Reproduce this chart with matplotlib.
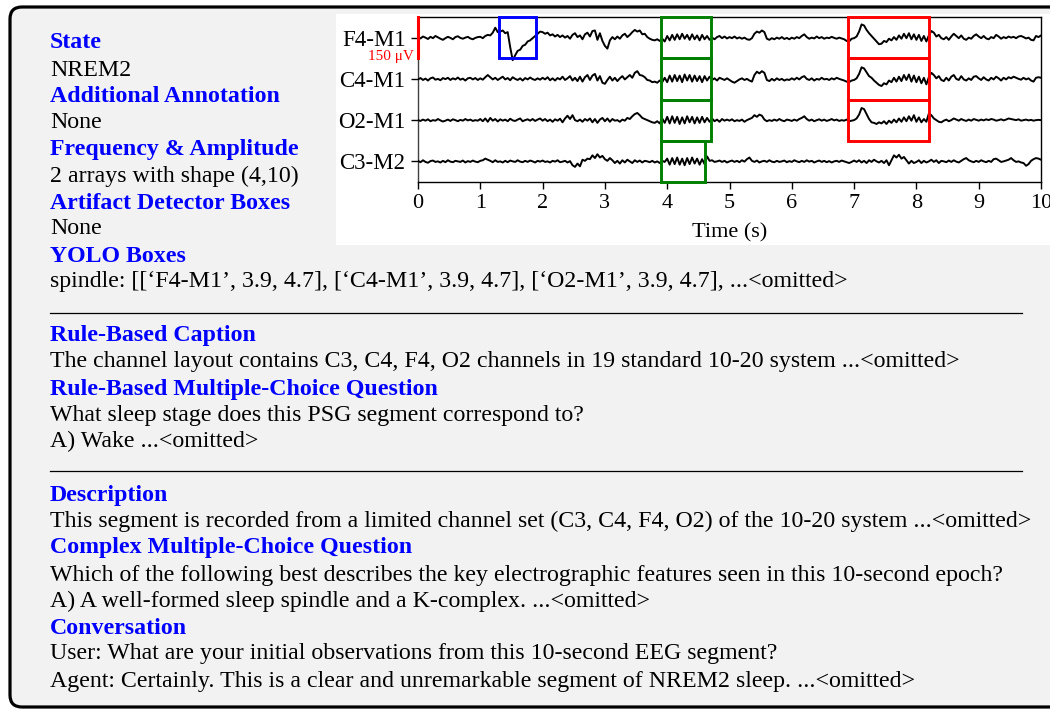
import numpy as np
import matplotlib
matplotlib.use("Agg")
import matplotlib.pyplot as plt
from matplotlib.patches import FancyBboxPatch, Rectangle
from matplotlib.transforms import IdentityTransform

plt.rcParams['font.family'] = ['Liberation Serif', 'DejaVu Serif']

# ---------------------------------------------------------------- data
channels = ['F4-M1', 'C4-M1', 'O2-M1', 'C3-M2']
duration = 10.0

# EEG amplitude in microvolts, 25 samples per second
f4_m1 = [
    2, -3, 4, 0, -5, 3, -2, 6, 1, -4, -8, -2, 3, -1, -6, 2, 5, -1, -4, 0, 3, -3, -6, -1, 2,
    3, -2, 6, 10, 8, 18, 36, 20, 22, 26, 16, 20, -35, -82, -64, -48, -44, -30, -26, -14, -10, -2, 6, 14, 22,
    20, 14, 18, 8, 12, 4, 10, 2, 8, 0, 6, -4, 10, 16, 2, 8, -6, 12, 18, 4, 24, 26, -8, 16, -12,
    -30, -40, -10, 2, -6, 4, -4, 8, 14, 2, 10, 20, 28, 22, 26, 12, 14, 2, -4, -8, -10, -6, -12, -4, -14,
    6, -10, 10, -8, 12, -6, 14, -4, 10, -8, 12, -6, 8, -10, 10, -6, 6, -8, 0, -6, 2, 6, -2, 4, -3,
    2, -2, 4, -3, 1, -4, 0, -6, -8, -2, 14, 22, 18, 26, 20, -4, -8, -2, -6, 0, -4, 2, -5, -1, -6,
    0, -4, 2, -2, 6, 12, 2, -4, 0, -3, 4, -2, 2, -4, 0, -2, 3, -1, -4, 0, -3, -6, -12, -14, -4,
    -2, 4, 22, 48, 44, 28, 16, 6, -4, -14, -24, -22, -12, -16, -4, -10, 2, -8, 8, -4, 14, -2, 16, -6, 12,
    -8, 10, -12, 6, -14, 8, 24, 18, 4, 10, -2, -6, 2, -8, 4, 14, 6, -2, 8, -4, -8, 0, -4, 6, 12,
    4, -2, 6, -3, -6, 2, -2, 10, 4, -4, 2, -2, 4, 0, 3, -2, 4, 6, 2, -3, 0, -8, -10, 6, 2,
    8,
]
c4_m1 = [
    -2, 3, -4, 1, -6, 2, 5, -3, 0, -5, 3, -1, 4, -4, 2, -2, 5, -3, 1, -6, 2, 4, -2, 3, -4,
    2, -3, 6, 14, 6, -2, 4, -4, 2, 8, -2, 3, -5, 6, 0, -4, 2, -6, 3, -2, 5, -1, -4, 2, -3,
    4, -2, 6, -5, 2, -6, 3, -2, 8, -4, 2, 10, -6, 4, -8, 8, -10, 6, 14, -4, 12, 18, -6, 10, -14,
    -18, -4, 8, -6, 4, -8, 2, 10, -2, 6, 14, 4, 22, 28, 14, 12, 6, -4, -6, -12, -10, -14, -6, -12, 4,
    -12, 12, -10, 14, -8, 12, -12, 16, -6, 14, -10, 12, -8, 10, -12, 10, -6, 8, -4, 2, -6, 4, 0, -4, 2,
    -4, -10, -14, -8, -2, 2, -4, 0, -6, -10, 14, 26, 20, 28, 22, -4, -8, 0, -6, 2, -4, 0, -6, -2, -4,
    2, -3, 4, -2, 6, 10, 0, -4, 2, -6, 0, -3, 4, -2, 0, -4, 2, -2, 4, 0, -3, -6, -10, -12, -6,
    -4, 2, 18, 42, 38, 24, 10, 4, -6, -14, -22, -26, -16, -20, -6, -12, 4, -10, 8, -8, 14, -4, 16, -10, 12,
    -12, 8, -16, 4, -20, 6, 22, 14, 2, 10, -4, -8, 4, -6, 8, 14, 0, -4, 10, -2, -6, 2, -4, 8, 10,
    2, -4, 6, -2, -6, 4, -2, 8, 2, -6, 4, -2, 6, 2, 8, 4, 0, -3, 4, -2, 2, -6, -10, 4, 6,
    4,
]
o2_m1 = [
    0, -3, 2, -2, 3, -4, 0, -2, 4, -1, -5, -2, 2, -3, 3, 0, -4, 1, -2, 4, -1, 2, -3, 0, -2,
    4, -4, 6, -6, 8, -2, 4, -5, 3, -2, 2, -4, 5, -1, -3, 2, 6, -4, 0, 3, -2, 4, -3, 2, 6,
    -2, 4, -4, 2, -6, 3, -2, 5, -8, 6, 16, 4, 18, 0, -4, 2, -6, 4, -2, 6, -8, 4, -10, 2, 8,
    -4, 6, -6, 4, -2, 0, -6, 2, -2, 8, 4, 14, 22, 26, 18, 8, 4, 0, -4, -8, -10, -4, -12, 6, -10,
    12, -12, 14, -10, 12, -14, 10, -12, 14, -8, 12, -12, 10, -10, 12, -8, 8, -6, 6, -4, 2, -6, 4, -2, 2,
    -2, 3, -4, 0, -3, 2, -6, 0, 4, 8, 18, 12, 20, 16, 2, -4, 0, -3, 2, -2, 4, -1, -4, 2, 0,
    -3, 2, -2, 4, 8, 14, 4, -2, 2, -4, 0, 3, -2, 2, -3, 0, 4, -1, 2, -3, 0, -2, 2, -4, -2,
    0, 6, 20, 44, 40, 22, 4, -8, -10, -14, -8, -12, -4, -14, -2, -10, 2, -8, 6, -6, 10, -4, 14, -2, 18,
    -6, 10, -8, 4, -6, 24, 18, 6, 0, -6, -8, -2, 2, -4, 0, 6, 2, -2, 4, 0, -3, 2, -2, 4, 1,
    -2, 2, -1, 3, 0, 4, 2, -2, 0, 3, -1, 2, 6, 4, 2, 0, 3, -2, 0, 2, -1, 1, -2, 0, 1,
    0,
]
c3_m2 = [
    2, -3, 4, -2, -5, 1, 3, -2, 0, -4, 2, -3, 4, -1, -3, 2, 0, -2, 3, -4, 1, -2, 3, -1, -3,
    2, 4, 10, 6, 2, -3, 4, -2, 0, -4, 2, -3, 3, 0, -2, 4, -1, -3, 2, -2, 3, 0, -4, 2, -1,
    3, -2, 0, -4, 2, -1, 4, -3, -1, 2, -4, 1, -14, -20, -8, -18, 6, 2, 10, 8, 22, 12, 26, 14, 20,
    8, 2, 12, 4, -6, 2, -8, 4, -4, 6, 0, -6, 4, -2, 3, -4, 2, 0, -3, 2, -4, 0, -6, 2, -2,
    10, -12, 12, -10, 14, -12, 10, -14, 12, -10, 14, -8, 10, -12, 8, -10, 18, 2, 4, -2, 0, 3, -2, 2, -4,
    0, 3, -2, 2, -3, 4, -1, 8, 14, 2, -2, 3, -4, 0, 2, -2, 4, -1, -3, 2, -2, 0, 3, -3, 1,
    -2, 4, 0, -3, 2, -2, 4, -1, 2, -4, 0, 3, -2, 2, -3, 1, -4, 0, 2, -2, 3, 0, -3, -6, -2,
    3, -2, 4, -4, 2, -6, 4, -2, 6, 0, -4, 2, -6, 4, -14, 4, 22, 14, 24, 10, 16, 4, -8, 2, -6,
    -2, 4, -6, 2, -4, 0, 6, -2, 4, -6, 2, 0, -3, 3, -2, 4, -1, -4, 2, 8, 12, 4, 0, -3, 2,
    -2, 4, 0, -3, 2, -2, 8, 10, 4, -2, 0, 3, 6, 12, 4, -2, 0, -4, -6, -16, -10, 2, 8, 12, 10,
    6,
]
signals = [f4_m1, c4_m1, o2_m1, c3_m2]

# detector / YOLO boxes: (channel, start s, end s)
artifact_boxes = [('F4-M1', 1.3, 1.9)]
spindle_boxes = [('F4-M1', 3.9, 4.7), ('C4-M1', 3.9, 4.7), ('O2-M1', 3.9, 4.7), ('C3-M2', 3.9, 4.6)]
kcomplex_boxes = [('F4-M1', 6.9, 8.2), ('C4-M1', 6.9, 8.2), ('O2-M1', 6.9, 8.2)]

scale_uv = 150
xticks = list(range(0, 11))

# text panel: (y pixel, text, is heading)
panel_lines = [
    (40, "State", True),
    (67, "NREM2", False),
    (93, "Additional Annotation", True),
    (120, "None", False),
    (147, "Frequency & Amplitude", True),
    (173, "2 arrays with shape (4,10)", False),
    (200, "Artifact Detector Boxes", True),
    (226, "None", False),
    (253, "YOLO Boxes", True),
    (279, "spindle: [[\u2018F4-M1\u2019, 3.9, 4.7], [\u2018C4-M1\u2019, 3.9, 4.7], "
          "[\u2018O2-M1\u2019, 3.9, 4.7], ...<omitted>", False),
    (332, "Rule-Based Caption", True),
    (358, "The channel layout contains C3, C4, F4, O2 channels in 19 standard 10-20 system ...<omitted>", False),
    (386, "Rule-Based Multiple-Choice Question", True),
    (412, "What sleep stage does this PSG segment correspond to?", False),
    (438, "A) Wake ...<omitted>", False),
    (492, "Description", True),
    (518, "This segment is recorded from a limited channel set (C3, C4, F4, O2) of the 10-20 system ...<omitted>", False),
    (545, "Complex Multiple-Choice Question", True),
    (572, "Which of the following best describes the key electrographic features seen in this 10-second epoch?", False),
    (598, "A) A well-formed sleep spindle and a K-complex. ...<omitted>", False),
    (625, "Conversation", True),
    (651, "User: What are your initial observations from this 10-second EEG segment?", False),
    (678, "Agent: Certainly. This is a clear and unremarkable segment of NREM2 sleep. ...<omitted>", False),
]
separators = [313, 471]

# ---------------------------------------------------------------- figure
W, H = 1050, 710
fig = plt.figure(figsize=(W / 100, H / 100), dpi=100)
fig.patch.set_facecolor('white')


def fx(x):
    return x / W


def fy(y):
    return 1 - y / H


# rounded grey card
card = FancyBboxPatch((10, 3), 1060, 700, boxstyle="round,pad=0,rounding_size=12",
                      transform=IdentityTransform(), facecolor='#f2f2f2',
                      edgecolor='black', linewidth=2.3, zorder=0)
fig.add_artist(card)

# white backdrop of the EEG figure
backdrop = Rectangle((336, H - 245), 720, 231, transform=IdentityTransform(),
                     facecolor='white', edgecolor='none', zorder=1)
fig.add_artist(backdrop)

# ---------------------------------------------------------------- EEG axes
ax = fig.add_axes([fx(418), fy(182), fx(1041) - fx(418), (182 - 17) / H])
ax.set_zorder(2)
ax.set_facecolor('white')

n = len(f4_m1)
t = np.linspace(0, duration, n)
offsets = {}
for i, (name, sig) in enumerate(zip(channels, signals)):
    off = -i * scale_uv
    offsets[name] = off
    ax.plot(t, np.asarray(sig, dtype=float) + off, color='black', lw=1.4, zorder=3)

for boxes, col in [(artifact_boxes, 'blue'), (spindle_boxes, 'green'), (kcomplex_boxes, 'red')]:
    for name, start, end in boxes:
        ax.add_patch(Rectangle((start, offsets[name] - scale_uv / 2), end - start, scale_uv,
                               fill=False, edgecolor=col, lw=2.1, zorder=4, clip_on=False))

ax.set_xlim(0, duration)
ax.set_ylim(-(len(channels) - 1) * scale_uv - scale_uv / 2, scale_uv / 2)
ax.set_yticks([offsets[c] for c in channels])
ax.set_yticklabels(channels, fontsize=16.5)
ax.set_xticks(xticks)
ax.set_xticklabels([str(v) for v in xticks], fontsize=16)
ax.tick_params(axis='both', direction='out', length=5, width=1, pad=4)
ax.set_xlabel('Time (s)', fontsize=16, labelpad=7)
for sp in ax.spines.values():
    sp.set_linewidth(1.0)
    sp.set_color('black')
ax.spines['left'].set_color('#404040')

# amplitude scale bar
ax.plot([0, 0], [scale_uv / 2, -scale_uv / 2], color='red', lw=2.2, zorder=5, clip_on=False)
ax.text(-0.07, -scale_uv / 2 + 6, f'{scale_uv} \u03bcV', color='red', fontsize=11,
        ha='right', va='center')

# ---------------------------------------------------------------- text panel
for y, txt, head in panel_lines:
    if head:
        fig.text(fx(50), fy(y + 3), txt, color='blue', fontsize=17.2, fontweight='bold',
                 ha='left', va='center', zorder=5)
    else:
        fig.text(fx(50), fy(y + 3), txt, color='black', fontsize=17.2,
                 ha='left', va='center', zorder=5)

for y in separators:
    fig.add_artist(plt.Line2D([fx(50), fx(1022)], [fy(y), fy(y)], color='black', lw=0.9))

fig.savefig('out.png', dpi=100, facecolor='white')
